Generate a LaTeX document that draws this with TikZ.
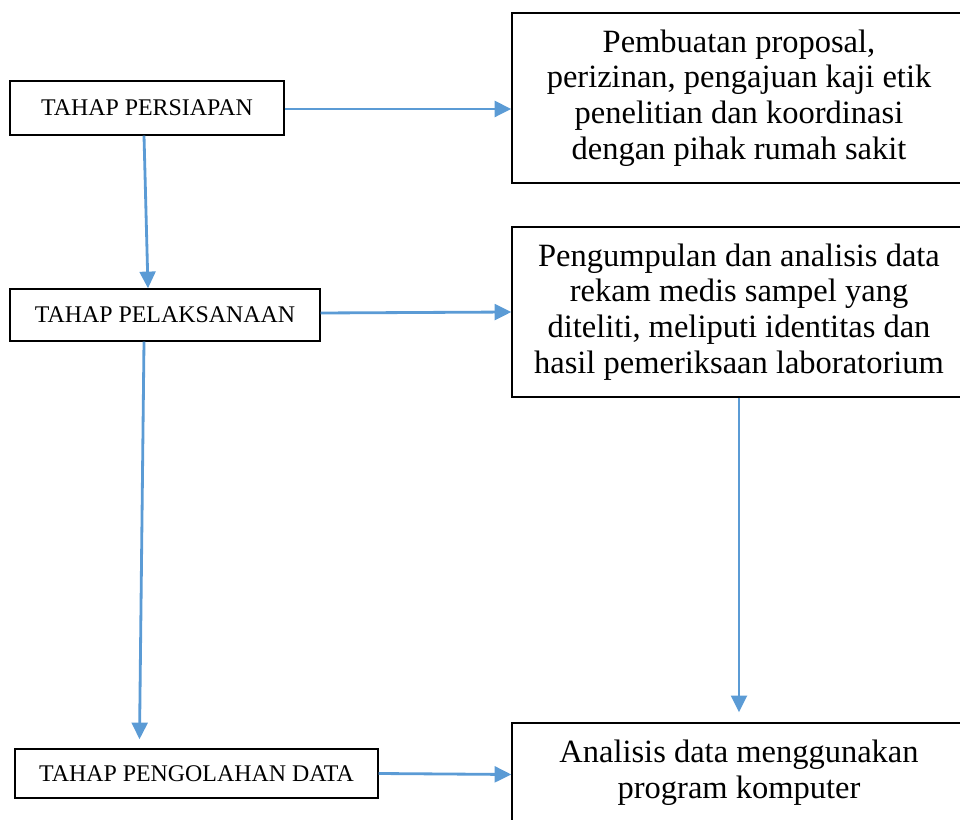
\documentclass[tikz,border=0pt]{standalone}
\usepackage{fontspec}
\setmainfont{Liberation Serif}
\usetikzlibrary{arrows.meta,calc}
\definecolor{flowblue}{RGB}{91,155,213}
\tikzset{
  stage/.style={draw, line width=0.8pt, inner sep=0pt, font=\fontsize{13.6}{16}\selectfont},
  detail/.style={draw, line width=0.8pt, inner sep=0pt, align=center, minimum width=9.08cm, font=\fontsize{18.5}{20.3}\selectfont},
  flow/.style={flowblue, line width=1.6pt, -{Triangle[length=9.5pt,width=9pt]}}
}
\begin{document}
\begin{tikzpicture}[x=0.02cm,y=-0.02cm]
        \useasboundingbox (0,0) rectangle (960,820);
        \clip (0,0) rectangle (960,820);
        % stages on the left
        \node[stage, minimum width=5.48cm, minimum height=1.08cm] (persiapan) at (147,108) {TAHAP PERSIAPAN};
        \node[stage, minimum width=6.2cm, minimum height=1.04cm] (pelaksanaan) at (165,315) {TAHAP PELAKSANAAN};
        \node[stage, minimum width=7.26cm, minimum height=0.98cm] (pengolahan) at (196.5,773.5) {TAHAP PENGOLAHAN DATA};
        % activities on the right
        \node[detail, minimum height=3.4cm] (proposal) at (739,98)
            {Pembuatan proposal,\\ perizinan, pengajuan kaji etik\\ penelitian dan koordinasi\\ dengan pihak rumah sakit};
        \node[detail, minimum height=3.4cm] (pengumpulan) at (739,312)
            {Pengumpulan dan analisis data\\ rekam medis sampel yang\\ diteliti, meliputi identitas dan\\ hasil pemeriksaan laboratorium};
        \node[detail, minimum height=1.98cm] (analisis) at (739,772.5)
            {Analisis data menggunakan\\ program komputer};
        % arrows
        \draw[flow] ($(persiapan.east)+(0,1)$) -- ($(persiapan.east -| proposal.west)+(0,1)$);
        \draw[flow] ($(persiapan.south)+(-3,0)$) -- ($(pelaksanaan.north)+(-17,0)$);
        \draw[flow] ($(pelaksanaan.east)+(0,-2)$) -- ($(pelaksanaan.east -| pengumpulan.west)+(0,-3)$);
        \draw[flow] ($(pelaksanaan.south)+(-21,0)$) -- ($(pengolahan.north)+(-57,-9)$);
        \draw[flow] (pengumpulan.south) -- ($(analisis.north)+(0,-10)$);
        \draw[flow] (pengolahan.east) -- ($(pengolahan.east -| analisis.west)+(0,1)$);
\end{tikzpicture}
\end{document}
